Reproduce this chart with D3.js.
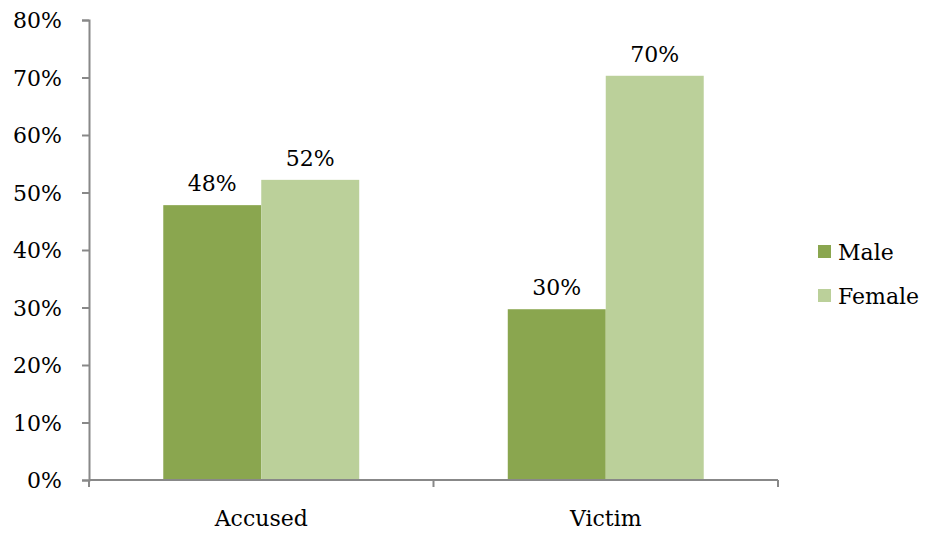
<!DOCTYPE html>
<html><head><meta charset="utf-8">
<script src="https://cdn.jsdelivr.net/npm/d3@7"></script>
<style>body{margin:0;background:#fff}svg{display:block}text{font-family:"DejaVu Serif",Georgia,serif;fill:#000}</style>
</head><body>
<svg id="c" width="927" height="533"></svg>
<script>
const categories = ["Accused", "Victim"];
const seriesNames = ["Male", "Female"];
const maleValues = [47.8, 29.7];
const femaleValues = [52.2, 70.3];
const valueLabels = [["48%", "52%"], ["30%", "70%"]];
const yTicks = [0, 10, 20, 30, 40, 50, 60, 70, 80];
const colors = ["#8aa64f", "#bbd09a"];

(function () {
const svg = d3.select("#c");
const mLeft = 89, mRight = 778, mTop = 20, mBottom = 480;
const x = d3.scaleBand().domain(categories).range([mLeft, mRight]).paddingInner(0).paddingOuter(0);
const inner = d3.scaleBand().domain(seriesNames).range([0, x.bandwidth()]).paddingInner(0).paddingOuter(0.758);
const y = d3.scaleLinear().domain([0, 80]).range([mBottom, mTop]);

const data = categories.map((c, i) => ({cat: c, vals: [maleValues[i], femaleValues[i]], labels: valueLabels[i]}));

const g = svg.append("g");
data.forEach(d => {
  d.vals.forEach((v, j) => {
    const bx = x(d.cat) + inner(seriesNames[j]);
    g.append("rect").attr("x", bx).attr("y", y(v)).attr("width", inner.bandwidth()).attr("height", y(0) - y(v))
      .attr("fill", colors[j]);
    g.append("text").attr("x", bx + inner.bandwidth() / 2).attr("y", y(v) - 14)
      .attr("text-anchor", "middle").attr("font-size", 22).text(d.labels[j]);
  });
});

// y axis
const yAxis = d3.axisLeft(y).tickValues(yTicks).tickFormat(d => d + "%").tickSizeOuter(0).tickSize(7).tickPadding(20);
const ya = svg.append("g").attr("transform", `translate(${mLeft},0)`).call(yAxis);
ya.selectAll("path,line").attr("stroke", "#888").attr("stroke-width", 2);
ya.selectAll("text").attr("font-size", 22).attr("font-family", '"DejaVu Serif",Georgia,serif').attr("fill", "#000").attr("dy", "0.36em");

// x axis
const xa = svg.append("g").attr("transform", `translate(0,${mBottom})`);
xa.append("line").attr("x1", mLeft).attr("x2", mRight).attr("y1", 0).attr("y2", 0).attr("stroke", "#888").attr("stroke-width", 2);
const edges = [mLeft].concat(categories.map(c => x(c) + x.bandwidth()));
edges.forEach(e => xa.append("line").attr("x1", e).attr("x2", e).attr("y1", 0).attr("y2", 7).attr("stroke", "#888").attr("stroke-width", 2));
categories.forEach(c => xa.append("text").attr("x", x(c) + x.bandwidth() / 2).attr("y", 46)
  .attr("text-anchor", "middle").attr("font-size", 22).text(c));

// legend
const lg = svg.append("g").attr("transform", "translate(818,245)");
seriesNames.forEach((s, i) => {
  lg.append("rect").attr("x", 0).attr("y", i * 44).attr("width", 13).attr("height", 13).attr("fill", colors[i]);
  lg.append("text").attr("x", 20).attr("y", i * 44 + 15).attr("font-size", 22).text(s);
});
})();
</script>
</body></html>
